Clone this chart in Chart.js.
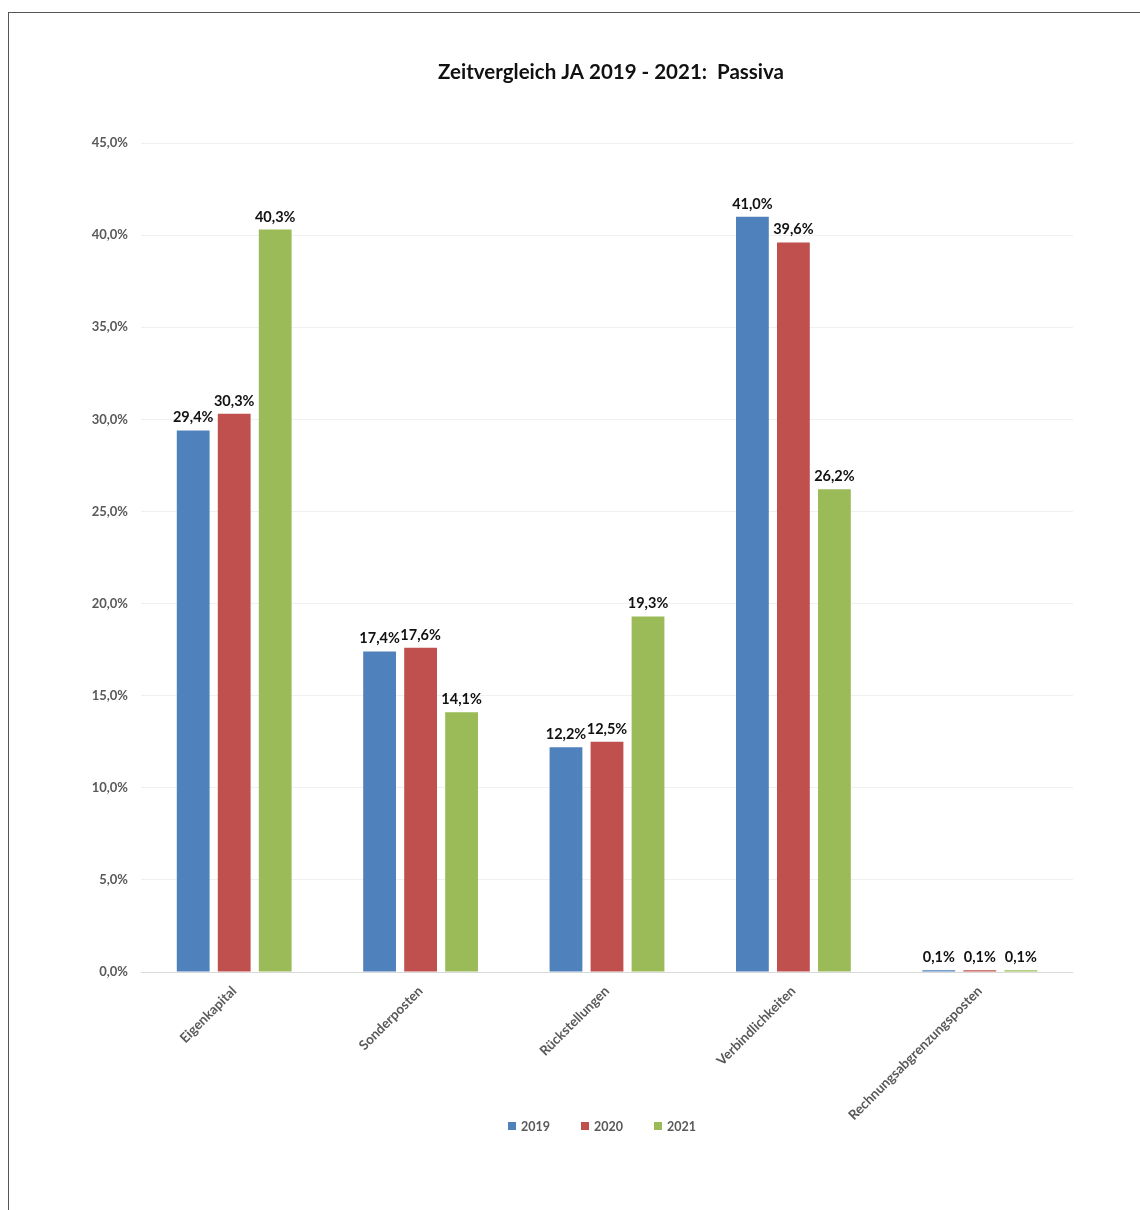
<!DOCTYPE html>
<html>
<head>
<meta charset="utf-8">
<title>Zeitvergleich JA 2019 - 2021: Passiva</title>
<script src="https://cdn.jsdelivr.net/npm/chart.js@4"></script>
<style>
    html, body { margin: 0; padding: 0; background: #fff; overflow: hidden; }
    #frame {
        position: absolute; left: 8px; top: 12px; width: 1132px; height: 1198px;
        border-top: 1px solid #555; border-left: 1px solid #555;
    }
    #wrap { position: absolute; left: 0; top: 0; width: 1140px; height: 1210px; }
</style>
</head>
<body>
<div id="frame"></div>
<div id="wrap"><canvas id="PassivaChart"></canvas></div>
<script>
const categories = ['Eigenkapital', 'Sonderposten', 'Rückstellungen', 'Verbindlichkeiten', 'Rechnungsabgrenzungsposten'];
const years = ['2019', '2020', '2021'];
const values2019 = [29.4, 17.4, 12.2, 41.0, 0.1];
const values2020 = [30.3, 17.6, 12.5, 39.6, 0.1];
const values2021 = [40.3, 14.1, 19.3, 26.2, 0.1];
const yTicks = [0, 5, 10, 15, 20, 25, 30, 35, 40, 45];
const TITLE = 'Zeitvergleich JA 2019 - 2021:  Passiva';

const COLORS = ['#4F81BD', '#C0504D', '#9BBB59'];
const FONT = 'Lato, "Open Sans", sans-serif';
const GREY = '#595959';

function pct(v) {
    return v.toFixed(1).replace('.', ',') + '%';
}

// values above the bars
const barLabels = {
    id: 'barLabels',
    afterDatasetsDraw(chart) {
        const ctx = chart.ctx;
        ctx.save();
        ctx.font = 'bold 14.5px ' + FONT;
        ctx.fillStyle = '#111';
        ctx.textAlign = 'center';
        ctx.textBaseline = 'alphabetic';
        chart.data.datasets.forEach((ds, i) => {
            chart.getDatasetMeta(i).data.forEach((bar, j) => {
                ctx.fillText(pct(ds.data[j]), bar.x, bar.y - 8);
            });
        });
        ctx.restore();
    }
};

// title and legend, centred like in the Excel original
const titleAndLegend = {
    id: 'titleAndLegend',
    afterDraw(chart) {
        const ctx = chart.ctx;
        const area = chart.chartArea;
        ctx.save();
        ctx.fillStyle = '#111';
        ctx.font = 'bold 20.5px ' + FONT;
        ctx.textAlign = 'center';
        ctx.textBaseline = 'middle';
        ctx.fillText(TITLE, (area.left + area.right) / 2 + 4, 72);

        ctx.font = 'bold 12.5px ' + FONT;
        ctx.textAlign = 'left';
        const box = 8, gap = 5, space = 31;
        const widths = chart.data.datasets.map(ds => box + gap + ctx.measureText(ds.label).width);
        const total = widths.reduce((a, b) => a + b, 0) + space * (widths.length - 1);
        let x = (area.left + area.right) / 2 - 5 - total / 2;
        const y = area.bottom + 154;
        chart.data.datasets.forEach((ds, i) => {
            ctx.fillStyle = ds.backgroundColor;
            ctx.fillRect(x, y - box / 2, box, box);
            ctx.fillStyle = GREY;
            ctx.fillText(ds.label, x + box + gap, y + 1);
            x += widths[i] + space;
        });
        ctx.restore();
    }
};

const data = {
    labels: categories,
    datasets: years.map((y, i) => ({
        label: y,
        data: [values2019, values2020, values2021][i],
        backgroundColor: COLORS[i],
    }))
};

new Chart(document.getElementById('PassivaChart'), {
    type: 'bar',
    data: data,
    plugins: [barLabels, titleAndLegend],
    options: {
        responsive: true,
        maintainAspectRatio: false,
        animation: false,
        devicePixelRatio: 1,
        categoryPercentage: 0.66,
        barPercentage: 0.8,
        layout: { padding: { left: 0, right: 67, top: 143, bottom: 68 } },
        plugins: {
            title: { display: false },
            legend: { display: false },
            tooltip: { enabled: false }
        },
        scales: {
            x: {
                grid: { display: false },
                border: { display: false },
                ticks: {
                    minRotation: 45,
                    maxRotation: 45,
                    color: GREY,
                    font: { family: FONT, size: 13.5, weight: 'bold' }
                },
                afterFit(scale) { scale.height = 170; }
            },
            y: {
                min: 0,
                max: 45,
                border: { display: false },
                grid: {
                    drawTicks: false,
                    color: (c) => (c.tick && c.tick.value === 0 ? '#d9d9d9' : '#f0f0f0')
                },
                afterBuildTicks(scale) { scale.ticks = yTicks.map(v => ({ value: v })); },
                ticks: {
                    padding: 13,
                    color: GREY,
                    font: { family: FONT, size: 13, weight: 'bold' },
                    callback: (v) => pct(v)
                },
                afterFit(scale) { scale.width = 141; }
            }
        }
    }
});
</script>
</body>
</html>
